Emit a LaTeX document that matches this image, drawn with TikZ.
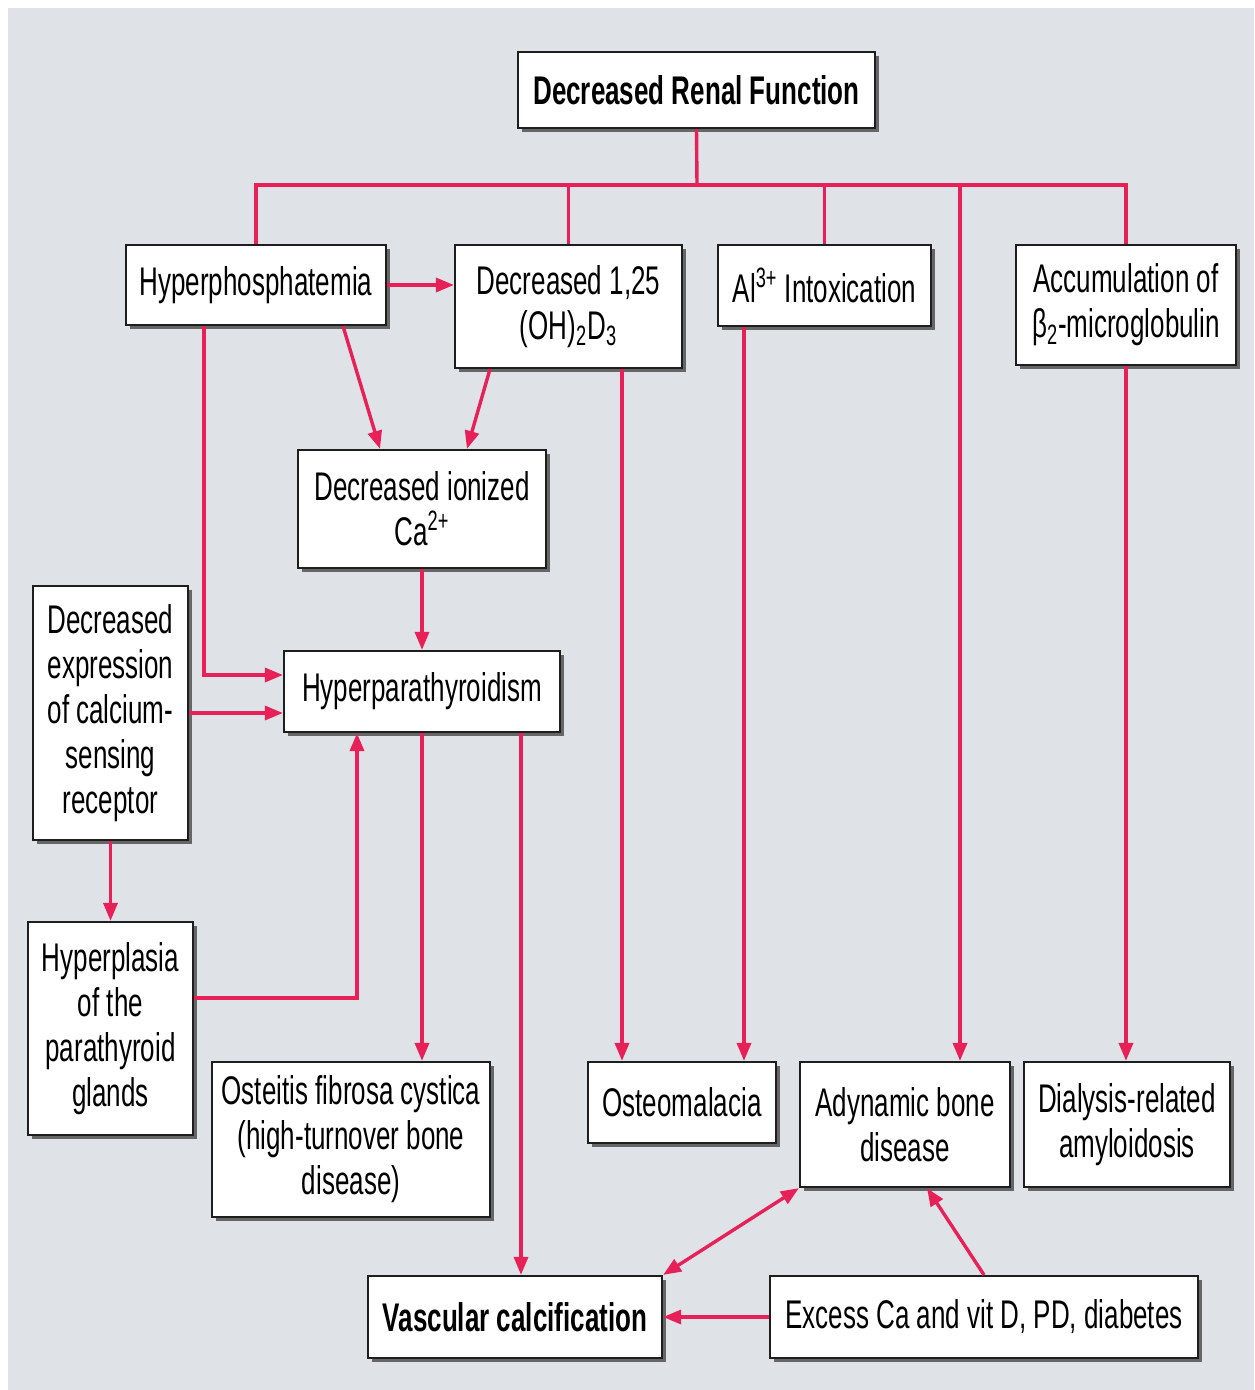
\documentclass[tikz,border=0pt]{standalone}
\usepackage{fontspec}
\setmainfont[FakeStretch=0.65]{Liberation Sans}
\usetikzlibrary{arrows.meta, positioning, calc, shadows}
\definecolor{bggray}{RGB}{223,227,231}
\definecolor{linkred}{RGB}{232,32,88}
\definecolor{boxedge}{RGB}{30,30,30}

\begin{document}
\begin{tikzpicture}[
  x=0.5pt, y=-0.5pt,
  every node/.style={font=\fontsize{20}{22.5}\selectfont},
  boxnode/.style={rectangle, draw=boxedge, line width=1.1pt, fill=white, align=center, inner sep=2pt,
    drop shadow={shadow xshift=2pt, shadow yshift=-2pt, fill=black!60, opacity=1}},
  boldnode/.style={boxnode, font=\fontsize{20}{22.5}\selectfont\bfseries},
  link/.style={draw=linkred, line width=1.7pt},
  arr/.style={link, -{Triangle[length=9pt, width=7pt]}},
]
\useasboundingbox (0,0) rectangle (1254,1390);
\fill[bggray] (8,8) rectangle (1254,1390);

%% Top node
\node[boldnode, minimum width=178.5pt, minimum height=38pt] (title) at (696.5,90) {Decreased Renal Function};

%% First row of causes
\node[boxnode, minimum width=130pt, minimum height=40pt] (hyperphos) at (256,285) {Hyperphosphatemia};
\node[boxnode, minimum width=113.5pt, minimum height=61.5pt] (vitd) at (568.5,306.5) {Decreased 1,25\\(OH)\textsubscript{2}D\textsubscript{3}};
\node[boxnode, minimum width=106.5pt, minimum height=40.5pt] (alintox) at (824.5,285.5) {Al\textsuperscript{3+} Intoxication};
\node[boxnode, minimum width=110pt, minimum height=60pt] (betamg) at (1126,305) {Accumulation of\\β\textsubscript{2}-microglobulin};

%% Middle column
\node[boxnode, minimum width=124pt, minimum height=59pt] (ionca) at (422,509) {Decreased ionized\\Ca\textsuperscript{2+}};
\node[boxnode, minimum width=77.5pt, minimum height=127pt] (casr) at (110.5,713) {Decreased\\expression\\of calcium-\\sensing\\receptor};
\node[boxnode, minimum width=138pt, minimum height=40.5pt] (hpth) at (422,691.5) {Hyperparathyroidism};
\node[boxnode, minimum width=82.5pt, minimum height=106.5pt] (hyperplasia) at (110.5,1028.5) {Hyperplasia\\of the\\parathyroid\\glands};

%% Bone disease row
\node[boxnode, minimum width=139pt, minimum height=77.5pt] (osteitis) at (351,1139.5) {Osteitis fibrosa cystica\\(high-turnover bone\\disease)};
\node[boxnode, minimum width=94pt, minimum height=40.5pt] (osteomal) at (682,1102.5) {Osteomalacia};
\node[boxnode, minimum width=105pt, minimum height=62.5pt] (adynamic) at (905,1124.5) {Adynamic bone\\disease};
\node[boxnode, minimum width=103pt, minimum height=62.5pt] (amyloid) at (1127,1124.5) {Dialysis-related\\amyloidosis};

%% Bottom row
\node[boldnode, minimum width=147pt, minimum height=41pt] (vascalc) at (515,1317) {Vascular calcification};
\node[boxnode, minimum width=214pt, minimum height=41pt] (excess) at (984,1317) {Excess Ca and vit D, PD, diabetes};

%% Branch points
\coordinate (bus) at (697,185);
\coordinate (adyin) at ([xshift=27.5pt]adynamic.north);
\coordinate (hpthout) at ([xshift=49.5pt]hpth.south);
\coordinate (vitdout) at ([xshift=26.75pt]vitd.south);
\coordinate (alout) at ([xshift=-40.25pt]alintox.south);

%% Bus from renal function
\draw[link] (title.south) -- (bus);
\draw[link] (hyperphos.north) |- (bus) -| (betamg.north);
\draw[link] (vitd.north) -- (vitd.north |- bus);
\draw[link] (alintox.north) -- (alintox.north |- bus);
\draw[arr] (adyin |- bus) -- (adyin);

%% Calcium / PTH chain
\draw[arr] (hyperphos.east) -- (hyperphos.east -| vitd.west);
\draw[arr] ([xshift=43.5pt]hyperphos.south) -- ([xshift=-21pt]ionca.north);
\draw[arr] ([xshift=-39.25pt]vitd.south) -- ([xshift=22.5pt]ionca.north);
\draw[arr] ([xshift=-26pt]hyperphos.south) |- ([yshift=8.25pt]hpth.west);
\draw[arr] (ionca.south) -- (hpth.north);
\draw[arr] (casr.east) -- (casr.east -| hpth.west);
\draw[arr] (casr.south) -- (hyperplasia.north);
\draw[arr] ([yshift=15.25pt]hyperplasia.east) -| ([xshift=-32.5pt]hpth.south);

%% Down to the bone diseases
\draw[arr] (hpth.south) -- (hpth.south |- osteitis.north);
\draw[arr] (hpthout) -- (hpthout |- vascalc.north);
\draw[arr] (vitdout) -- (vitdout |- osteomal.north);
\draw[arr] (alout) -- (alout |- osteomal.north);
\draw[arr] (betamg.south) -- (betamg.south |- amyloid.north);

%% Bottom links
\draw[arr, {Triangle[length=9pt, width=7pt]}-{Triangle[length=9pt, width=7pt]}] (vascalc.north east) -- (adynamic.south west);
\draw[arr] (excess.north) -- ([xshift=11pt]adynamic.south);
\draw[arr] (excess.west) -- (vascalc.east);

\end{tikzpicture}
\end{document}
